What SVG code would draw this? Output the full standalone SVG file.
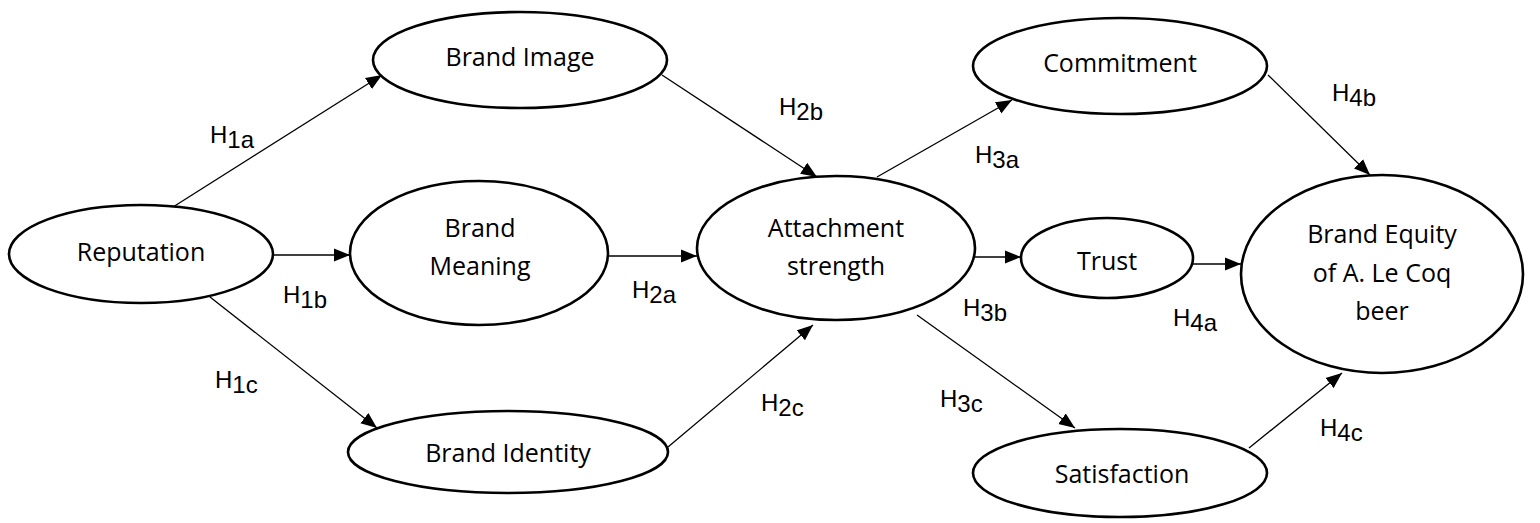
<svg xmlns="http://www.w3.org/2000/svg" width="1540" height="523" viewBox="0 0 1540 523">
<style>
.node ellipse{fill:#fff;stroke:#000;stroke-width:2.6}
.node text{font-family:"Open Sans","Liberation Sans",sans-serif;font-size:25px;fill:#000;text-anchor:middle}
.conn line{stroke:#000;stroke-width:1.3;marker-end:url(#ah)}
.lbl{font-family:"Liberation Sans",Arial,sans-serif;font-size:24px;fill:#000}
</style>
<defs>
<marker id="ah" markerUnits="userSpaceOnUse" markerWidth="17" markerHeight="14" refX="16" refY="6.5" orient="auto" viewBox="0 0 17 13">
<path d="M0,0 L16,6.5 L0,13 z" fill="#000"/>
</marker>
</defs>
<rect width="1540" height="523" fill="#fff"/>
<g id="connectors" class="conn">
<line x1="173" y1="207" x2="382" y2="75"/>
<line x1="273" y1="255" x2="350" y2="255"/>
<line x1="210" y1="297" x2="377" y2="428"/>
<line x1="662" y1="75" x2="817" y2="177"/>
<line x1="609" y1="256" x2="697" y2="256"/>
<line x1="668" y1="447" x2="813" y2="325"/>
<line x1="877" y1="177" x2="1012" y2="100"/>
<line x1="975" y1="257" x2="1021" y2="257"/>
<line x1="917" y1="315" x2="1075" y2="428"/>
<line x1="1268" y1="75" x2="1370" y2="175"/>
<line x1="1193" y1="264" x2="1241" y2="264"/>
<line x1="1249" y1="448" x2="1342" y2="373"/>
</g>
<g id="labels" class="lbl">
<text x="210" y="143">H<tspan dy="5">1a</tspan></text>
<text x="283" y="303">H<tspan dy="5">1b</tspan></text>
<text x="215" y="388">H<tspan dy="5">1c</tspan></text>
<text x="779" y="115">H<tspan dy="5">2b</tspan></text>
<text x="632" y="298">H<tspan dy="5">2a</tspan></text>
<text x="761" y="411">H<tspan dy="5">2c</tspan></text>
<text x="975" y="163">H<tspan dy="5">3a</tspan></text>
<text x="963" y="316">H<tspan dy="5">3b</tspan></text>
<text x="940" y="407">H<tspan dy="5">3c</tspan></text>
<text x="1332" y="101">H<tspan dy="5">4b</tspan></text>
<text x="1173" y="326">H<tspan dy="5">4a</tspan></text>
<text x="1320" y="436">H<tspan dy="5">4c</tspan></text>
</g>
<g id="reputation" class="node"><ellipse cx="141" cy="254" rx="132" ry="49"/><text x="141" y="261">Reputation</text></g>
<g id="brand-image" class="node"><ellipse cx="520" cy="60" rx="147" ry="48"/><text x="520" y="66">Brand Image</text></g>
<g id="brand-meaning" class="node"><ellipse cx="479" cy="253" rx="129" ry="72"/><text x="480" y="237">Brand</text><text x="480" y="275">Meaning</text></g>
<g id="brand-identity" class="node"><ellipse cx="508" cy="452" rx="160" ry="41"/><text x="508" y="462">Brand Identity</text></g>
<g id="attachment-strength" class="node"><ellipse cx="836" cy="248" rx="139" ry="72"/><text x="836" y="237">Attachment</text><text x="836" y="275">strength</text></g>
<g id="commitment" class="node"><ellipse cx="1120" cy="66" rx="147" ry="48"/><text x="1120" y="72">Commitment</text></g>
<g id="trust" class="node"><ellipse cx="1107" cy="258" rx="86" ry="40"/><text x="1107" y="270">Trust</text></g>
<g id="satisfaction" class="node"><ellipse cx="1120" cy="473" rx="147" ry="44"/><text x="1122" y="483">Satisfaction</text></g>
<g id="brand-equity" class="node"><ellipse cx="1382" cy="274" rx="141" ry="99"/><text x="1382" y="243">Brand Equity</text><text x="1382" y="282">of A. Le Coq</text><text x="1382" y="320">beer</text></g>
</svg>
